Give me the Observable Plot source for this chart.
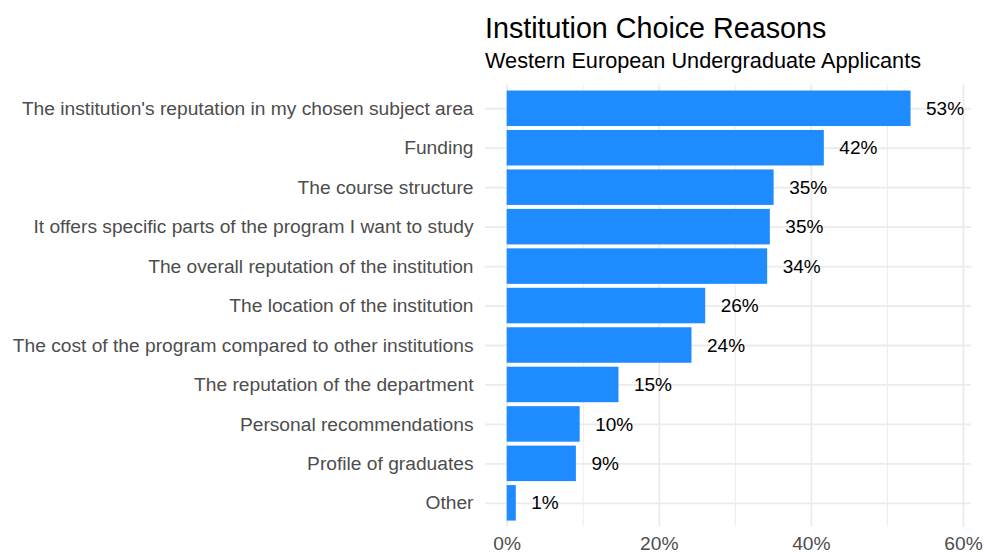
<!DOCTYPE html>
<html>
<head>
<meta charset="utf-8">
<script src="https://cdn.jsdelivr.net/npm/d3@7"></script>
<script src="https://cdn.jsdelivr.net/npm/@observablehq/plot@0.6"></script>
<style>
  html, body { margin: 0; padding: 0; background: #fff; }
  #wrap { position: relative; width: 984px; height: 552px; padding-top: 76px; box-sizing: border-box; font-family: "Liberation Sans", Arial, sans-serif; }
  .t { position: absolute; left: 485px; line-height: 1; white-space: nowrap; color: #000; }
  #title { top: 13.5px; font-size: 28.7px; }
  #subtitle { top: 50px; font-size: 21.7px; }
  svg { display: block; }
</style>
</head>
<body>
<div id="wrap">
  <div class="t" id="title">Institution Choice Reasons</div>
  <div class="t" id="subtitle">Western European Undergraduate Applicants</div>
  <div id="chart"></div>
</div>
<script>
const categories = [
  "The institution's reputation in my chosen subject area",
  "Funding",
  "The course structure",
  "It offers specific parts of the program I want to study",
  "The overall reputation of the institution",
  "The location of the institution",
  "The cost of the program compared to other institutions",
  "The reputation of the department",
  "Personal recommendations",
  "Profile of graduates",
  "Other"
];
const values = [53.1, 41.7, 35.1, 34.6, 34.25, 26.1, 24.3, 14.7, 9.6, 9.1, 1.2];
const majorTicks = [0, 20, 40, 60];
const minorTicks = [10, 30, 50];

const data = categories.map((c, i) => ({category: c, value: values[i], label: Math.round(values[i]) + "%"}));

const grid = "#EBEBEB";
const axisFs = "19.2px";
const labelFs = "19px";

const chart = Plot.plot({
  width: 984,
  height: 476,
  marginLeft: 485,
  marginRight: 13,
  marginTop: 8.6,
  marginBottom: 25.5,
  style: {fontFamily: "Liberation Sans, Arial, sans-serif", fontSize: axisFs, background: "#fff", overflow: "visible"},
  x: {domain: [-2.85, 61.05], ticks: majorTicks, tickFormat: d => d + "%", label: null},
  y: {domain: categories, paddingInner: 0.1, paddingOuter: 0.15, round: false, label: null},
  marks: [
    Plot.ruleX(minorTicks, {stroke: grid, strokeWidth: 0.9}),
    Plot.ruleX(majorTicks, {stroke: grid, strokeWidth: 1.8}),
    Plot.ruleY(categories, {y: d => d, stroke: grid, strokeWidth: 1.8}),
    Plot.barX(data, {x1: 0, x2: "value", y: "category", fill: "#1E8CFF"}),
    Plot.text(data, {x: "value", y: "category", text: "label", dx: 15, textAnchor: "start", fill: "#000", fontSize: labelFs}),
    Plot.axisX({ticks: majorTicks, tickFormat: d => d + "%", tickSize: 0, tickPadding: 9, fill: "#4D4D4D", fontSize: axisFs, label: null}),
    Plot.axisY({tickSize: 0, tickPadding: 12, fill: "#4D4D4D", fontSize: axisFs, label: null})
  ]
});
document.getElementById("chart").appendChild(chart);
</script>
</body>
</html>
